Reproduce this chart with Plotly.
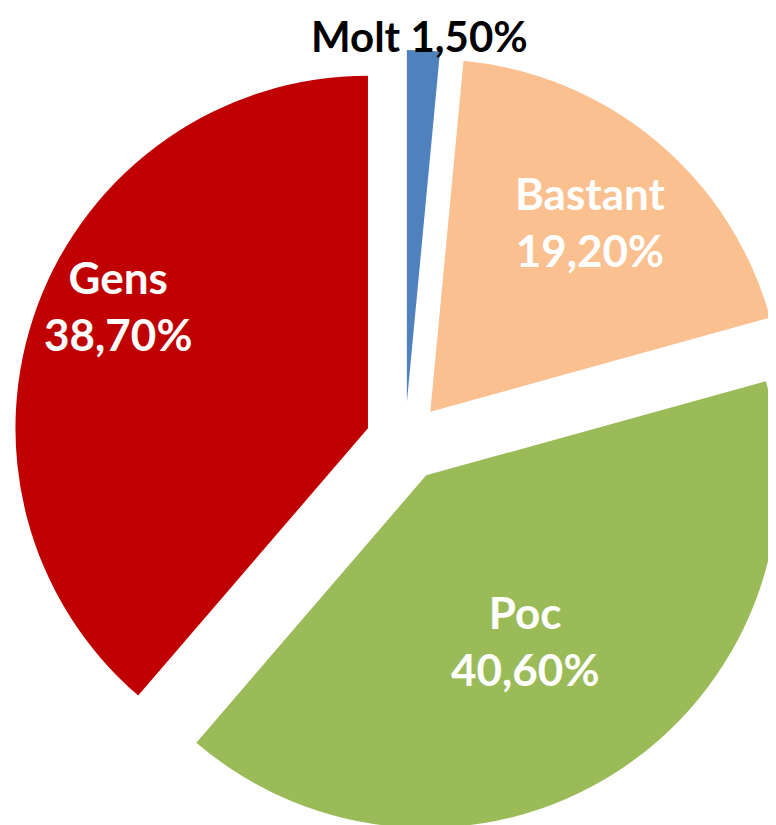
import plotly.graph_objects as go

# data
labels = ["Molt", "Bastant", "Poc", "Gens"]
values = [1.5, 19.2, 40.6, 38.7]
value_text = ["1,50%", "19,20%", "40,60%", "38,70%"]
colors = ["#4F81BD", "#FAC090", "#9BBB59", "#C00000"]

W, H = 789, 840
OFF = 8  # page body margin
FONT = "Lato"

fig = go.Figure()

fig.add_trace(go.Pie(
    labels=labels,
    values=values,
    sort=False,
    direction="clockwise",
    rotation=0,
    pull=[0.112] * len(values),
    marker=dict(colors=colors, line=dict(width=0)),
    textinfo="none",
    hoverinfo="label+percent",
    showlegend=False,
    domain=dict(x=[0.0063, 1.0], y=[0.0167, 0.95]),
))

# label centres in page pixels
label_px = [(419, 36), (590, 221), (525, 640), (118, 305)]
label_col = ["black", "white", "white", "white"]
label_size = [42, 44, 44, 44]

for i, (px, py) in enumerate(label_px):
    if i == 0:
        txt = f"{labels[i]} {value_text[i]}"
    else:
        txt = f"{labels[i]}<br>{value_text[i]}"
    fig.add_annotation(
        x=(px - OFF) / W, y=1 - (py - OFF) / H, xref="paper", yref="paper",
        text=txt, showarrow=False,
        font=dict(family=FONT, size=label_size[i], color=label_col[i], weight="bold"),
        xanchor="center", yanchor="middle",
    )

fig.update_layout(
    width=W,
    height=H,
    margin=dict(l=0, r=0, t=0, b=0),
    paper_bgcolor="white",
    plot_bgcolor="white",
)

fig.write_html("out.html")
